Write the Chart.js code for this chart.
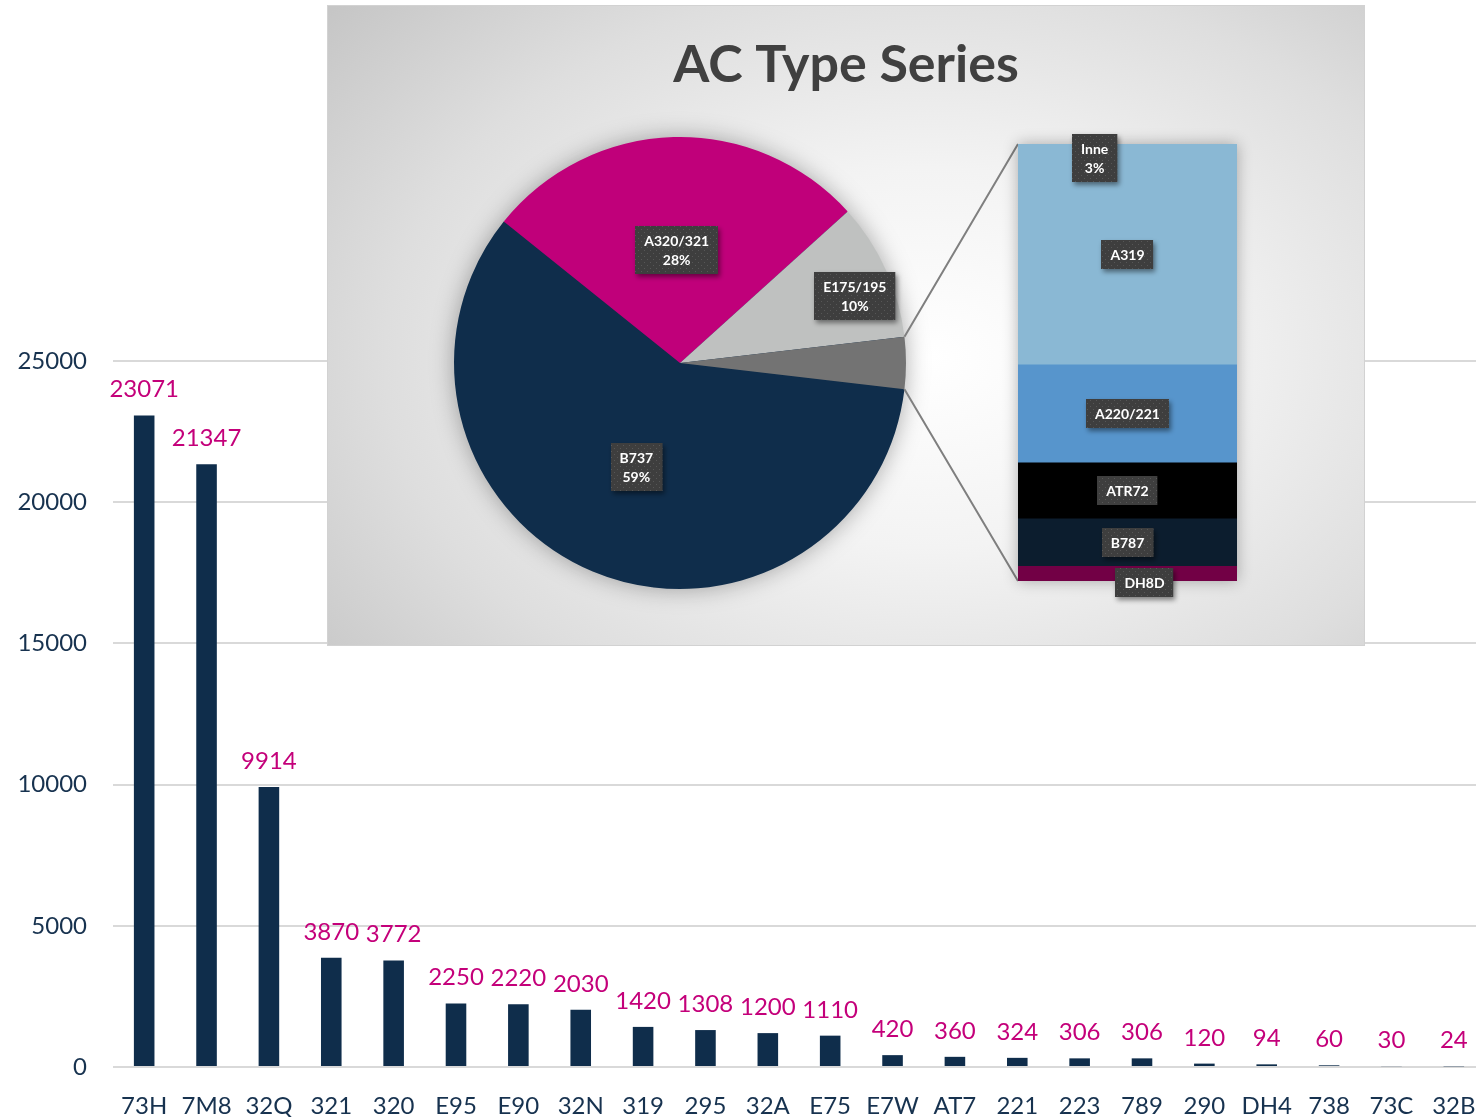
<!DOCTYPE html>
<html>
<head>
<meta charset="utf-8">
<title>AC Type Series</title>
<script src="https://cdn.jsdelivr.net/npm/chart.js@4"></script>
<style>
  html, body { margin: 0; padding: 0; background: #ffffff; }
  #wrap { position: relative; width: 1476px; height: 1117px; overflow: hidden; }
  #barChart { position: absolute; left: 0; top: 0; }
  #inset {
    position: absolute; left: 328px; top: 6px; width: 1036px; height: 639px;
    background: radial-gradient(ellipse 75% 85% at 58% 55%, #ffffff 0%, #f3f3f3 35%, #dedede 70%, #c6c6c6 100%);
    outline: 1px solid #d2d2d2;
  }
  #pieChart { position: absolute; left: 0; top: 0; }
  #stackChart { position: absolute; left: 662px; top: 114px; }
</style>
</head>
<body>
<div id="wrap">
  <canvas id="barChart" width="1485" height="1117"></canvas>
  <div id="inset">
    <canvas id="pieChart" width="1036" height="639"></canvas>
    <canvas id="stackChart" width="270" height="490"></canvas>
  </div>
</div>
<script>
// bar chart data
const acTypes = ["73H", "7M8", "32Q", "321", "320", "E95", "E90", "32N", "319", "295", "32A",
  "E75", "E7W", "AT7", "221", "223", "789", "290", "DH4", "738", "73C", "32B"];
const acCounts = [23071, 21347, 9914, 3870, 3772, 2250, 2220, 2030, 1420, 1308, 1200,
  1110, 420, 360, 324, 306, 306, 120, 94, 60, 30, 24];
const yTicks = [0, 5000, 10000, 15000, 20000, 25000];

// pie (series) data
const pieTitle = "AC Type Series";
const seriesNames = ["B737", "A320/321", "E175/195", "Inne"];
const seriesCounts = [44508, 20810, 7428, 2810];
const seriesPct = ["59%", "28%", "10%", "3%"];

// bar of pie ("Inne" split), top to bottom
const otherNames = ["A319", "A220/221", "ATR72", "B787", "DH8D"];
const otherCounts = [1420, 630, 360, 306, 94];

const NAVY = "#0f2d4b";
const MAGENTA = "#c4007a";
const TEXT = "#17324f";

Chart.defaults.font.family = "Lato, 'Open Sans', sans-serif";
Chart.defaults.animation = false;

function labelPattern(ctx) {
  const c = document.createElement("canvas");
  c.width = 6; c.height = 6;
  const p = c.getContext("2d");
  p.fillStyle = "#3e3e3e"; p.fillRect(0, 0, 6, 6);
  p.fillStyle = "#575757"; p.fillRect(1, 1, 1, 1); p.fillRect(4, 4, 1, 1);
  return ctx.createPattern(c, "repeat");
}

function drawLabelBox(ctx, lines, cx, cy) {
  ctx.save();
  ctx.font = "bold 14px Lato, 'Open Sans', sans-serif";
  const lh = 19;
  const w = Math.max(...lines.map(l => ctx.measureText(l).width)) + 18;
  const h = lines.length * lh + 10;
  const x = Math.round(cx - w / 2), y = Math.round(cy - h / 2);
  ctx.shadowColor = "rgba(0,0,0,0.45)";
  ctx.shadowBlur = 5;
  ctx.shadowOffsetX = 2;
  ctx.shadowOffsetY = 3;
  ctx.fillStyle = labelPattern(ctx);
  ctx.fillRect(x, y, w, h);
  ctx.shadowColor = "transparent";
  ctx.fillStyle = "#ffffff";
  ctx.textAlign = "center";
  ctx.textBaseline = "middle";
  lines.forEach((l, i) => ctx.fillText(l, cx, y + 5 + lh * i + lh / 2 + 1));
  ctx.restore();
}

// ---------- main bar chart ----------
const barValueLabels = {
  id: "barValueLabels",
  afterDatasetsDraw(chart) {
    const ctx = chart.ctx;
    const meta = chart.getDatasetMeta(0);
    ctx.save();
    ctx.font = "24px Lato, 'Open Sans', sans-serif";
    ctx.fillStyle = MAGENTA;
    ctx.textAlign = "center";
    ctx.textBaseline = "alphabetic";
    meta.data.forEach((bar, i) => {
      ctx.fillText(String(acCounts[i]), bar.x, bar.y - 18);
    });
    ctx.restore();
  }
};

new Chart(document.getElementById("barChart"), {
  type: "bar",
  data: {
    labels: acTypes,
    datasets: [{
      data: acCounts,
      backgroundColor: NAVY,
      barPercentage: 0.33,
      categoryPercentage: 1
    }]
  },
  options: {
    responsive: false,
    layout: { padding: { top: 361, left: 0, right: 0, bottom: 0 } },
    plugins: { legend: { display: false }, tooltip: { enabled: false } },
    scales: {
      x: {
        grid: { display: false },
        border: { display: false },
        ticks: { color: TEXT, font: { size: 24 }, padding: 17, maxRotation: 0, autoSkip: false },
        afterFit: s => { s.height = 50; s.paddingLeft = 0; s.paddingRight = 0; }
      },
      y: {
        min: 0,
        max: 25000,
        afterBuildTicks: s => { s.ticks = yTicks.map(v => ({ value: v })); },
        grid: { color: "#d9d9d9", lineWidth: 2, drawTicks: false },
        border: { display: false },
        ticks: { color: TEXT, font: { size: 24 }, padding: 26, callback: v => String(v) },
        afterFit: s => { s.width = 113; }
      }
    }
  },
  plugins: [barValueLabels]
});

// ---------- bar of pie (stack) ----------
const stackOrder = otherNames.map((n, i) => i).reverse(); // bottom first
const stackColors = ["#8ab8d4", "#5795cc", "#000000", "#0c1d2e", "#720045"];
const otherTotal = otherCounts.reduce((a, b) => a + b, 0);

const stackLabels = {
  id: "stackLabels",
  beforeDatasetsDraw(chart) {
    const { ctx, chartArea: a } = chart;
    ctx.save();
    ctx.shadowColor = "rgba(0,0,0,0.3)";
    ctx.shadowBlur = 14;
    ctx.fillStyle = "#8ab8d4";
    ctx.fillRect(a.left, a.top, a.right - a.left, a.bottom - a.top);
    ctx.restore();
  },
  afterDatasetsDraw(chart) {
    const { ctx, chartArea: a } = chart;
    chart.data.datasets.forEach((ds, di) => {
      const el = chart.getDatasetMeta(di).data[0];
      let cx = el.x, cy = (el.y + el.base) / 2;
      if (ds.label === "DH8D") { cx += 17; cy += 9; }
      drawLabelBox(ctx, [ds.label], cx, cy);
    });
    drawLabelBox(ctx, [seriesNames[3], seriesPct[3]],
      a.left + (a.right - a.left) * 0.35, a.top + 14);
  }
};

const stackChart = new Chart(document.getElementById("stackChart"), {
  type: "bar",
  data: {
    labels: [seriesNames[3]],
    datasets: stackOrder.map(i => ({
      label: otherNames[i],
      data: [otherCounts[i]],
      backgroundColor: stackColors[i],
      barPercentage: 1,
      categoryPercentage: 1
    }))
  },
  options: {
    responsive: false,
    layout: { padding: { left: 28, right: 23, top: 24, bottom: 29 } },
    plugins: { legend: { display: false }, tooltip: { enabled: false } },
    scales: {
      x: { display: false, stacked: true },
      y: { display: false, stacked: true, min: 0, max: otherTotal }
    }
  },
  plugins: [stackLabels]
});

// ---------- pie ----------
const seriesTotal = seriesCounts.reduce((a, b) => a + b, 0);
const otherShare = seriesCounts[3] / seriesTotal;
const labelRadius = [0.5, 0.5, 0.83, null];
const labelShift = [[0, 0], [0, 0], [4, 10], [0, 0]];

const pieExtras = {
  id: "pieExtras",
  beforeDraw(chart) {
    const ctx = chart.ctx;
    ctx.save();
    ctx.font = "bold 52px Lato, 'Open Sans', sans-serif";
    ctx.fillStyle = "#404040";
    ctx.textAlign = "center";
    ctx.textBaseline = "middle";
    ctx.fillText(pieTitle, chart.width / 2, 59);
    ctx.restore();
  },
  beforeDatasetsDraw(chart) {
    const ctx = chart.ctx;
    const arc = chart.getDatasetMeta(0).data[0];
    ctx.save();
    ctx.shadowColor = "rgba(0,0,0,0.35)";
    ctx.shadowBlur = 24;
    ctx.fillStyle = NAVY;
    ctx.beginPath();
    ctx.arc(arc.x, arc.y, arc.outerRadius - 1, 0, Math.PI * 2);
    ctx.fill();
    ctx.restore();
  },
  afterDatasetsDraw(chart) {
    const ctx = chart.ctx;
    const arcs = chart.getDatasetMeta(0).data;
    // connector lines to the stack
    const o = arcs[3];
    const sa = stackChart.chartArea;
    const dx = stackChart.canvas.offsetLeft - chart.canvas.offsetLeft;
    const dy = stackChart.canvas.offsetTop - chart.canvas.offsetTop;
    ctx.save();
    ctx.strokeStyle = "#7f7f7f";
    ctx.lineWidth = 2;
    ctx.beginPath();
    ctx.moveTo(o.x + Math.cos(o.startAngle) * o.outerRadius, o.y + Math.sin(o.startAngle) * o.outerRadius);
    ctx.lineTo(sa.left + dx, sa.top + dy);
    ctx.moveTo(o.x + Math.cos(o.endAngle) * o.outerRadius, o.y + Math.sin(o.endAngle) * o.outerRadius);
    ctx.lineTo(sa.left + dx, sa.bottom + dy);
    ctx.stroke();
    ctx.restore();
    // slice labels
    arcs.forEach((a, i) => {
      if (!labelRadius[i]) return;
      const mid = (a.startAngle + a.endAngle) / 2;
      const r = a.outerRadius * labelRadius[i];
      drawLabelBox(ctx, [seriesNames[i], seriesPct[i]],
        a.x + Math.cos(mid) * r + labelShift[i][0], a.y + Math.sin(mid) * r + labelShift[i][1]);
    });
  }
};

new Chart(document.getElementById("pieChart"), {
  type: "pie",
  data: {
    labels: seriesNames,
    datasets: [{
      data: seriesCounts,
      backgroundColor: [NAVY, "#c0007a", "#bfc1c0", "#737373"],
      borderWidth: 0
    }]
  },
  options: {
    responsive: false,
    rotation: 90 + 180 * otherShare,
    layout: { padding: { left: 126, top: 131, right: 458, bottom: 56 } },
    plugins: { legend: { display: false }, tooltip: { enabled: false } }
  },
  plugins: [pieExtras]
});
</script>
</body>
</html>
